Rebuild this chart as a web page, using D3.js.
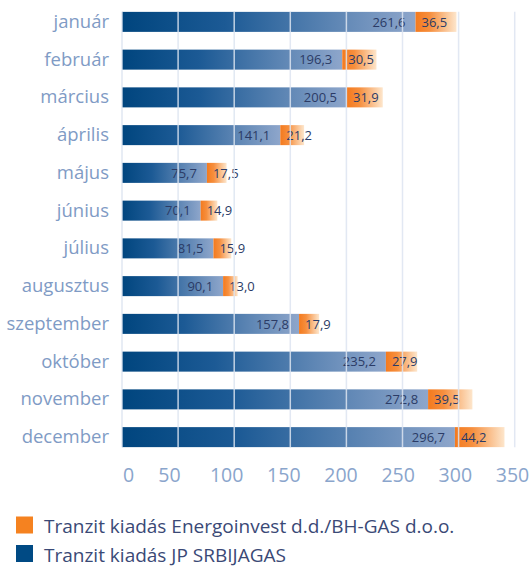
<!DOCTYPE html>
<html>
<head>
<meta charset="utf-8">
<script src="https://cdn.jsdelivr.net/npm/d3@7"></script>
<style>
  body { margin: 0; background: #fff; }
  text { font-family: "Open Sans", "Noto Sans", sans-serif; }
</style>
</head>
<body>
<div id="contenedor"></div>
<script>
// datos
var honapok = ["január", "február", "március", "április", "május", "június",
  "július", "augusztus", "szeptember", "október", "november", "december"]
var srbijagas = [261.6, 196.3, 200.5, 141.1, 75.7, 70.1, 81.5, 90.1, 157.8, 235.2, 272.8, 296.7]
var energoinvest = [36.5, 30.5, 31.9, 21.2, 17.5, 14.9, 15.9, 13.0, 17.9, 27.9, 39.5, 44.2]
var tickek = [0, 50, 100, 150, 200, 250, 300, 350]
var sorozatok = ["Tranzit kiadás Energoinvest d.d./BH-GAS d.o.o.", "Tranzit kiadás JP SRBIJAGAS"]

var ancho = 531, alto = 566

var svg = d3.select("#contenedor").append("svg")
  .attr("width", ancho).attr("height", alto)

var defs = svg.append("defs")
var gKek = defs.append("linearGradient").attr("id", "kek")
gKek.append("stop").attr("offset", "0%").attr("stop-color", "#00457e")
gKek.append("stop").attr("offset", "35%").attr("stop-color", "#1c5a95")
gKek.append("stop").attr("offset", "100%").attr("stop-color", "#8ea6cb")
var gNar = defs.append("linearGradient").attr("id", "narancs")
gNar.append("stop").attr("offset", "0%").attr("stop-color", "#f47a1e")
gNar.append("stop").attr("offset", "35%").attr("stop-color", "#f68f3e")
gNar.append("stop").attr("offset", "100%").attr("stop-color", "#fde6cc")

// skálák
var x = d3.scaleLinear().domain([0, 350]).range([122, 514.7])
var y = d3.scaleBand().domain(honapok).range([3, 456])
  .paddingInner(0.47).paddingOuter(0.235)
// a tengelyfeliratok az eredetin kissé el vannak csúszva a rácshoz képest
var xFelirat = d3.scaleLinear().domain([0, 50, 350]).range([128, 169, 512])

var adatok = honapok.map(function(h, i) {
  return { honap: h, kek: srbijagas[i], nar: energoinvest[i] }
})

var sorok = svg.append("g").selectAll("g").data(adatok).enter().append("g")

sorok.append("rect")
  .attr("x", x(0))
  .attr("y", function(d) { return y(d.honap) })
  .attr("width", function(d) { return x(d.kek) - x(0) })
  .attr("height", y.bandwidth())
  .attr("fill", "url(#kek)")

sorok.append("rect")
  .attr("x", function(d) { return x(d.kek) })
  .attr("y", function(d) { return y(d.honap) })
  .attr("width", function(d) { return x(d.kek + d.nar) - x(d.kek) })
  .attr("height", y.bandwidth())
  .attr("fill", "url(#narancs)")

// rácsvonalak a sávok fölött
var racsTeteje = y(honapok[0]), racsAlja = y(honapok[11]) + y.bandwidth()
svg.append("g").selectAll("line").data(tickek).enter().append("line")
  .attr("x1", function(d) { return x(d) }).attr("x2", function(d) { return x(d) })
  .attr("y1", racsTeteje).attr("y2", racsAlja)
  .attr("stroke", "#dde5f1").attr("stroke-width", 1.5).attr("opacity", 0.85)

var fmt = function(v) { return d3.format(".1f")(v).replace(".", ",") }

sorok.append("text")
  .attr("x", function(d) { return x(d.kek) - 10 })
  .attr("y", function(d) { return y(d.honap) + y.bandwidth() / 2 })
  .attr("dy", "0.36em")
  .attr("text-anchor", "end")
  .attr("font-size", 13)
  .attr("fill", "#2b3b66")
  .text(function(d) { return fmt(d.kek) })

sorok.append("text")
  .attr("x", function(d) { return x(d.kek) + 6 })
  .attr("y", function(d) { return y(d.honap) + y.bandwidth() / 2 })
  .attr("dy", "0.36em")
  .attr("font-size", 13)
  .attr("fill", "#2b3b66")
  .text(function(d) { return fmt(d.nar) })

// hónap címkék
svg.append("g").selectAll("text").data(honapok).enter().append("text")
  .attr("x", 109)
  .attr("y", function(d) { return y(d) + y.bandwidth() / 2 })
  .attr("dy", "0.32em")
  .attr("text-anchor", "end")
  .attr("font-size", 18.5)
  .attr("fill", "#7f9bc5")
  .text(function(d) { return d })

// x tengely
var ejeX = d3.axisBottom(xFelirat).tickValues(tickek).tickSize(0).tickPadding(0)
var tengely = svg.append("g").attr("transform", "translate(0,468)").call(ejeX)
tengely.select(".domain").remove()
tengely.selectAll("text")
  .attr("font-size", 19.5)
  .attr("fill", "#8aa5cc")
  .attr("font-family", "Open Sans, sans-serif")

// jelmagyarázat
var jel = svg.append("g").selectAll("g").data(sorozatok).enter().append("g")
  .attr("transform", function(d, i) { return "translate(16," + (516.5 + i * 28.5) + ")" })
jel.append("rect").attr("width", 17).attr("height", 17)
  .attr("fill", function(d, i) { return i === 0 ? "#f58220" : "#004a84" })
jel.append("text").attr("x", 28).attr("y", 16.5)
  .attr("font-size", 19)
  .attr("fill", "#3a4976")
  .text(function(d) { return d })
</script>
</body>
</html>
